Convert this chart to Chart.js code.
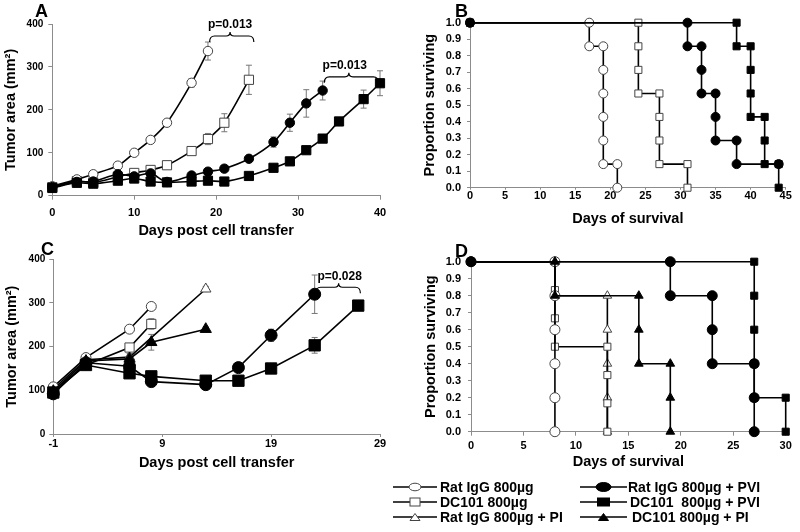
<!DOCTYPE html>
<html>
<head>
<meta charset="utf-8">
<script src="https://cdn.jsdelivr.net/npm/chart.js@4.4.0/dist/chart.umd.min.js"></script>
<style>
  body { margin: 0; background: #fff; width: 800px; height: 532px; position: relative; overflow: hidden;
         font-family: "Liberation Sans", Arial, Helvetica, sans-serif; }
  canvas { position: absolute; }
  .panel { position: absolute; font-weight: bold; font-size: 18px; line-height: 18px; }
  .leg { position: absolute; font-weight: bold; font-size: 14px; line-height: 16px; white-space: pre; }
  .legsvg { position: absolute; }
</style>
</head>
<body>
<canvas id="chartA" width="400" height="240" style="left:0;top:0"></canvas>
<canvas id="chartB" width="400" height="240" style="left:400px;top:0"></canvas>
<canvas id="chartC" width="400" height="245" style="left:0;top:235px"></canvas>
<canvas id="chartD" width="400" height="245" style="left:400px;top:235px"></canvas>
<div class="panel" style="left:35px;top:2px">A</div>
<div class="panel" style="left:455px;top:2px">B</div>
<div class="panel" style="left:41px;top:240px">C</div>
<div class="panel" style="left:455px;top:242px">D</div>
<div id="legend"></div>
<script>
// ---- series names ----
const NAMES = {
  ratIgg: "Rat IgG 800µg",
  dc101: "DC101 800µg",
  ratIggPi: "Rat IgG 800µg + PI",
  ratIggPvi: "Rat IgG 800µg + PVI",
  dc101Pvi: "DC101  800µg + PVI",
  dc101Pi: "DC101 800µg + PI"
};

// ---- panel A: tumor area (mm2) vs days post cell transfer ----
const aRatX = [0, 3, 5, 8, 10, 12, 14, 17, 19];
const aRatY = [22, 38, 50, 70, 100, 130, 170, 263, 337];
const aRatErr = [3, 3, 3, 4, 6, 8, 6, 10, 21];
const aDcX = [0, 3, 5, 8, 10, 12, 14, 17, 19, 21, 24];
const aDcY = [20, 34, 31, 44, 53, 60, 71, 104, 132, 170, 270];
const aDcErr = [3, 3, 3, 4, 5, 5, 5, 6, 13, 21, 34];
const aRatPviX = [0, 3, 5, 8, 10, 12, 14, 17, 19, 21, 24, 27, 29, 31, 33];
const aRatPviY = [20, 32, 33, 50, 45, 52, 32, 47, 56, 63, 86, 125, 170, 215, 245];
const aRatPviErr = [3, 3, 3, 3, 3, 3, 3, 4, 4, 4, 5, 12, 20, 32, 22];
const aDcPviX = [0, 3, 5, 8, 10, 12, 14, 17, 19, 21, 24, 27, 29, 31, 33, 35, 38, 40];
const aDcPviY = [18, 30, 28, 35, 40, 33, 31, 33, 35, 33, 46, 65, 80, 106, 133, 173, 225, 262];
const aDcPviErr = [3, 3, 3, 3, 3, 3, 3, 3, 3, 3, 4, 6, 6, 8, 8, 8, 21, 29];

// ---- panel B: proportion surviving ----
const bRatX = [0, 17, 17, 19, 19, 19, 19, 19, 19, 21, 21];
const bRatY = [1, 1, 0.857, 0.857, 0.714, 0.571, 0.429, 0.286, 0.143, 0.143, 0];
const bDcX = [0, 24, 24, 24, 24, 27, 27, 27, 27, 31, 31];
const bDcY = [1, 1, 0.857, 0.714, 0.571, 0.571, 0.429, 0.286, 0.143, 0.143, 0];
const bRatPviX = [0, 31, 31, 33, 33, 33, 35, 35, 35, 38, 38, 44];
const bRatPviY = [1, 1, 0.857, 0.857, 0.714, 0.571, 0.571, 0.429, 0.286, 0.286, 0.143, 0.143];
const bDcPviX = [0, 38, 38, 40, 40, 40, 40, 42, 42, 42, 44, 44];
const bDcPviY = [1, 1, 0.857, 0.857, 0.714, 0.571, 0.429, 0.429, 0.286, 0.143, 0.143, 0];

// ---- panel C: tumor area (mm2) ----
const cTicks = [-1, 9, 19, 29];
const cRatX = [-1, 2, 6, 8];
const cRatY = [108, 175, 240, 292];
const cRatErr = [5, 8, 6, 5];
const cDcX = [-1, 2, 6, 8];
const cDcY = [100, 158, 198, 252];
const cDcErr = [5, 8, 8, 12];
const cRatPiX = [-1, 2, 6, 13];
const cRatPiY = [103, 170, 176, 332];
const cRatPiErr = [5, 8, 8, 6];
const cDcPiX = [-1, 2, 6, 8, 13];
const cDcPiY = [98, 167, 172, 210, 240];
const cDcPiErr = [5, 8, 8, 18, 5];
const cRatPviX = [-1, 2, 6, 8, 13, 16, 19, 23];
const cRatPviY = [92, 163, 155, 120, 113, 152, 226, 320];
const cRatPviErr = [5, 8, 8, 12, 6, 8, 14, 44];
const cDcPviX = [-1, 2, 6, 8, 13, 16, 19, 23, 27];
const cDcPviY = [95, 158, 139, 132, 122, 122, 150, 203, 294];
const cDcPviErr = [5, 8, 6, 8, 5, 5, 6, 18, 8];

// ---- panel D: proportion surviving ----
const dRatX = [0, 8, 8, 8, 8, 8, 8];
const dRatY = [1, 1, 0.8, 0.6, 0.4, 0.2, 0];
const dDcX = [0, 8, 8, 8, 8, 13, 13, 13, 13];
const dDcY = [1, 1, 0.833, 0.667, 0.5, 0.5, 0.333, 0.167, 0];
const dRatPiX = [0, 8, 8, 13, 13, 13, 13, 13];
const dRatPiY = [1, 1, 0.8, 0.8, 0.6, 0.4, 0.2, 0];
const dDcPiX = [0, 8, 8, 16, 16, 16, 19, 19, 19];
const dDcPiY = [1, 1, 0.8, 0.8, 0.6, 0.4, 0.4, 0.2, 0];
const dRatPviX = [0, 19, 19, 23, 23, 23, 27, 27, 27];
const dRatPviY = [1, 1, 0.8, 0.8, 0.6, 0.4, 0.4, 0.2, 0];
const dDcPviX = [0, 27, 27, 27, 27, 27, 30, 30];
const dDcPviY = [1, 1, 0.8, 0.6, 0.4, 0.2, 0.2, 0];

const survTicks = [0, 0.1, 0.2, 0.3, 0.4, 0.5, 0.6, 0.7, 0.8, 0.9, 1.0];

const FONT = '"Liberation Sans", Arial, Helvetica, sans-serif';
Chart.defaults.font.family = FONT;
Chart.defaults.color = '#000';

const MARK = {
  ratIgg:    { pointStyle: 'circle',   pointBackgroundColor: '#fff', pointBorderColor: '#444' },
  dc101:     { pointStyle: 'rect',     pointBackgroundColor: '#fff', pointBorderColor: '#444' },
  ratIggPi:  { pointStyle: 'triangle', pointBackgroundColor: '#fff', pointBorderColor: '#444' },
  ratIggPvi: { pointStyle: 'circle',   pointBackgroundColor: '#000', pointBorderColor: '#000' },
  dc101Pvi:  { pointStyle: 'rect',     pointBackgroundColor: '#000', pointBorderColor: '#000' },
  dc101Pi:   { pointStyle: 'triangle', pointBackgroundColor: '#000', pointBorderColor: '#000' }
};

function pts(xs, ys) { return xs.map((x, i) => ({ x: x, y: ys[i] })); }

function series(key, xs, ys, errs, radius, tension) {
  return Object.assign({
    label: NAMES[key],
    data: pts(xs, ys),
    errors: errs || null,
    borderColor: '#000',
    borderWidth: 1.6,
    pointBorderWidth: 1,
    pointRadius: radius,
    tension: tension || 0,
    clip: false
  }, MARK[key]);
}

// error bars drawn from the SEM arrays
const errorBars = {
  id: 'errorBars',
  beforeDatasetsDraw(chart) {
    const ctx = chart.ctx, y = chart.scales.y;
    ctx.save();
    ctx.strokeStyle = '#777';
    ctx.lineWidth = 1;
    chart.data.datasets.forEach((ds, i) => {
      if (!ds.errors) return;
      chart.getDatasetMeta(i).data.forEach((pt, j) => {
        const e = ds.errors[j];
        if (!e) return;
        const v = ds.data[j].y;
        const t = y.getPixelForValue(v + e), b = y.getPixelForValue(v - e);
        ctx.beginPath();
        ctx.moveTo(pt.x, t); ctx.lineTo(pt.x, b);
        ctx.moveTo(pt.x - 3, t); ctx.lineTo(pt.x + 3, t);
        ctx.moveTo(pt.x - 3, b); ctx.lineTo(pt.x + 3, b);
        ctx.stroke();
      });
    });
    ctx.restore();
  }
};

// curly brackets with p values
const braces = {
  id: 'braces',
  afterDatasetsDraw(chart, args, opts) {
    const items = opts.items || [];
    const ctx = chart.ctx, x = chart.scales.x, y = chart.scales.y;
    items.forEach(b => {
      const x1 = x.getPixelForValue(b.from), x2 = x.getPixelForValue(b.to);
      const yy = y.getPixelForValue(b.level);
      const xm = x.getPixelForValue(b.mid);
      ctx.save();
      ctx.strokeStyle = '#000';
      ctx.lineWidth = 1.2;
      ctx.beginPath();
      ctx.moveTo(x1, yy + 6);
      ctx.quadraticCurveTo(x1, yy, x1 + 5, yy);
      ctx.lineTo(xm - 4, yy);
      ctx.quadraticCurveTo(xm, yy, xm, yy - 4);
      ctx.quadraticCurveTo(xm, yy, xm + 4, yy);
      ctx.lineTo(x2 - 5, yy);
      ctx.quadraticCurveTo(x2, yy, x2, yy + 6);
      ctx.stroke();
      ctx.font = 'bold 12px ' + FONT;
      ctx.fillStyle = '#000';
      ctx.textAlign = 'center';
      ctx.textBaseline = 'middle';
      ctx.fillText(b.text, x.getPixelForValue(b.textX), y.getPixelForValue(b.textY));
      ctx.restore();
    });
  }
};
Chart.register(errorBars, braces);

function axis(o) {
  const a = {
    type: 'linear', min: o.min, max: o.max,
    border: { display: true, color: '#8c8c8c', width: 1 },
    grid: { drawOnChartArea: false, color: '#8c8c8c', tickLength: o.tl },
    ticks: { stepSize: o.step, padding: o.pad, maxRotation: 0, autoSkip: false,
             font: { size: o.fs || 11, weight: 'bold' }, color: '#000' },
    title: { display: true, text: o.title, color: '#000',
             font: { size: 14.5, weight: 'bold' }, padding: o.tpad },
    afterFit: o.fit
  };
  if (o.fmt) a.ticks.callback = o.fmt;
  if (o.list) a.afterBuildTicks = s => { s.ticks = o.list.map(v => ({ value: v })); };
  return a;
}

function baseOptions(pad, xAxis, yAxis, braceItems) {
  return {
    responsive: false, animation: false, events: [],
    layout: { padding: pad },
    plugins: { legend: { display: false }, tooltip: { enabled: false }, braces: { items: braceItems || [] } },
    scales: { x: xAxis, y: yAxis }
  };
}

const fmt1 = v => Number(v).toFixed(1);

// ---- A ----
new Chart(document.getElementById('chartA'), {
  type: 'line',
  data: { datasets: [
    series('ratIggPvi', aRatPviX, aRatPviY, aRatPviErr, 4.7, 0.3),
    series('dc101Pvi', aDcPviX, aDcPviY, aDcPviErr, 6.5, 0.3),
    series('ratIgg', aRatX, aRatY, aRatErr, 4.7, 0.3),
    series('dc101', aDcX, aDcY, aDcErr, 6.5, 0.3)
  ] },
  options: baseOptions({ left: 0, top: 24, right: 20, bottom: 0 },
    axis({ min: 0, max: 40, step: 10, tl: 4, pad: 7, title: 'Days post cell transfer',
           tpad: { top: 0, bottom: 0 }, fit: s => { s.height = 44.3; } }),
    axis({ min: 0, max: 400, step: 100, tl: 4, pad: 5, fs: 10, title: 'Tumor area (mm²)',
           tpad: { top: 2.3, bottom: 0 }, fit: s => { s.width = 52.3; } }),
    [{ from: 19.2, to: 24.6, mid: 21.7, level: 372, text: 'p=0.013', textX: 21.7, textY: 398 },
     { from: 33.2, to: 39.8, mid: 36.2, level: 277, text: 'p=0.013', textX: 35.7, textY: 303 }])
});

// ---- B ----
new Chart(document.getElementById('chartB'), {
  type: 'line',
  data: { datasets: [
    series('ratIggPvi', bRatPviX, bRatPviY, null, 4.5),
    series('dc101Pvi', bDcPviX, bDcPviY, null, 5),
    series('ratIgg', bRatX, bRatY, null, 4.5),
    series('dc101', bDcX, bDcY, null, 5)
  ] },
  options: baseOptions({ left: 0, top: 22.7, right: 14.3, bottom: 0 },
    axis({ min: 0, max: 45, step: 5, tl: 2, pad: 0, title: 'Days of survival',
           tpad: { top: 0, bottom: 12.3 }, fit: s => { s.height = 52.3; } }),
    axis({ min: 0, max: 1, tl: 3, pad: 6, title: 'Proportion surviving', list: survTicks, fmt: fmt1,
           tpad: { top: 21.3, bottom: 0 }, fit: s => { s.width = 70; } }))
});

// ---- C ----
new Chart(document.getElementById('chartC'), {
  type: 'line',
  data: { datasets: [
    series('ratIggPvi', cRatPviX, cRatPviY, cRatPviErr, 6),
    series('dc101Pvi', cDcPviX, cDcPviY, cDcPviErr, 8),
    series('dc101Pi', cDcPiX, cDcPiY, cDcPiErr, 6.5),
    series('ratIgg', cRatX, cRatY, cRatErr, 5),
    series('dc101', cDcX, cDcY, cDcErr, 6.5),
    series('ratIggPi', cRatPiX, cRatPiY, cRatPiErr, 6)
  ] },
  options: baseOptions({ left: 0, top: 24.3, right: 20, bottom: 0 },
    axis({ min: -1, max: 29, tl: 3, pad: 0, title: 'Days post cell transfer', list: cTicks,
           tpad: { top: 0, bottom: 8.3 }, fit: s => { s.height = 46; } }),
    axis({ min: 0, max: 400, step: 100, tl: 4, pad: 4, fs: 10, title: 'Tumor area (mm²)',
           tpad: { top: 3.3, bottom: 0 }, fit: s => { s.width = 53.3; } }),
    [{ from: 23.1, to: 27.2, mid: 25.2, level: 336, text: 'p=0.028', textX: 25.3, textY: 360 }])
});

// ---- D ----
new Chart(document.getElementById('chartD'), {
  type: 'line',
  data: { datasets: [
    series('ratIggPvi', dRatPviX, dRatPviY, null, 5),
    series('dc101Pvi', dDcPviX, dDcPviY, null, 5),
    series('dc101Pi', dDcPiX, dDcPiY, null, 5),
    series('ratIgg', dRatX, dRatY, null, 5),
    series('dc101', dDcX, dDcY, null, 5),
    series('ratIggPi', dRatPiX, dRatPiY, null, 5)
  ] },
  options: baseOptions({ left: 0, top: 26.7, right: 14.3, bottom: 0 },
    axis({ min: 0, max: 30, step: 5, tl: 4, pad: 4, title: 'Days of survival',
           tpad: { top: 0, bottom: 9 }, fit: s => { s.height = 48.3; } }),
    axis({ min: 0, max: 1, tl: 3, pad: 7, title: 'Proportion surviving', list: survTicks, fmt: fmt1,
           tpad: { top: 22.3, bottom: 0 }, fit: s => { s.width = 71; } }))
});

// ---- shared legend ----
const LEGEND_ROWS = [['ratIgg', 'ratIggPvi'], ['dc101', 'dc101Pvi'], ['ratIggPi', 'dc101Pi']];
const rowY = [487, 502, 516.5];
function markerSvg(key, w) {
  const m = MARK[key], c = w / 2, fill = m.pointBackgroundColor, stroke = m.pointBorderColor;
  let shape = '';
  if (m.pointStyle === 'circle') shape = '<ellipse cx="' + c + '" cy="7" rx="' + (fill === '#000' ? 7.5 : 6) + '" ry="' + (fill === '#000' ? 4.5 : 3.8) + '" fill="' + fill + '" stroke="' + stroke + '"/>';
  else if (m.pointStyle === 'rect') shape = '<rect x="' + (c - (fill === '#000' ? 6 : 5)) + '" y="3" width="' + (fill === '#000' ? 12 : 10) + '" height="8" fill="' + fill + '" stroke="' + stroke + '"/>';
  else shape = '<polygon points="' + (c - 5) + ',10.5 ' + (c + 5) + ',10.5 ' + c + ',3.5" fill="' + fill + '" stroke="' + stroke + '"/>';
  return '<svg width="' + w + '" height="14"><line x1="0" y1="7" x2="' + w + '" y2="7" stroke="#000" stroke-width="1.6"/>' + shape + '</svg>';
}
let html = '';
LEGEND_ROWS.forEach((row, r) => {
  const top = rowY[r] - 7;
  html += '<div class="legsvg" style="left:393px;top:' + top + 'px">' + markerSvg(row[0], 44) + '</div>';
  html += '<div class="leg" style="left:440px;top:' + (top - 1) + 'px">' + NAMES[row[0]] + '</div>';
  html += '<div class="legsvg" style="left:580px;top:' + top + 'px">' + markerSvg(row[1], 47) + '</div>';
  html += '<div class="leg" style="left:' + (628 + 2 * r) + 'px;top:' + (top - 1) + 'px">' + NAMES[row[1]] + '</div>';
});
document.getElementById('legend').innerHTML = html;
</script>
</body>
</html>
